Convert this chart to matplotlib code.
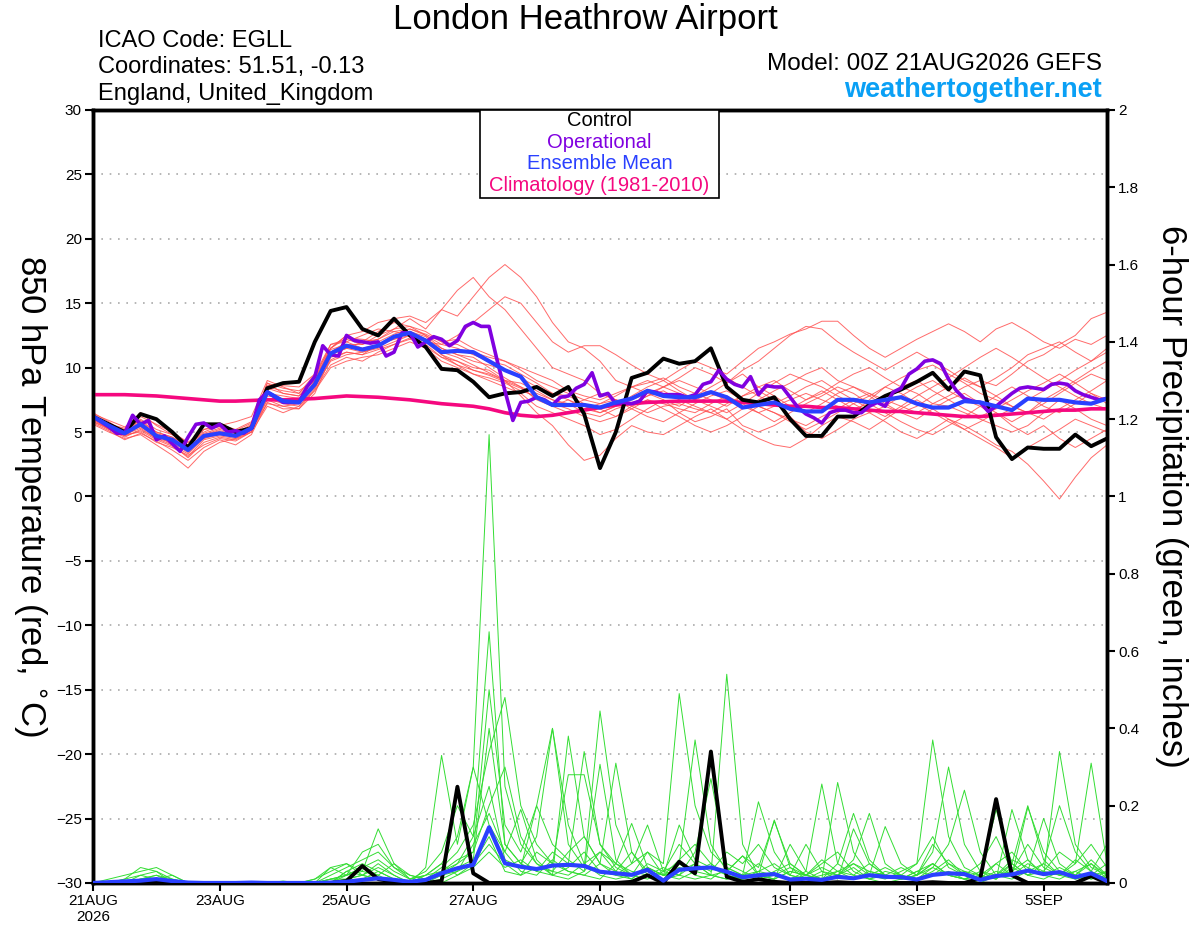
import matplotlib
matplotlib.use('Agg')
import matplotlib.pyplot as plt
from matplotlib.patches import Rectangle

plt.rcParams['font.family'] = ['Liberation Sans', 'DejaVu Sans']

# 6-hourly forecast hours (0..384) and 3-hourly for the operational run
hours6 = list(range(0, 385, 6))
hours3 = list(range(0, 385, 3))

tick_hours = [0, 48, 96, 144, 192, 264, 312, 360]
tick_labels = ['21AUG\n2026', '23AUG', '25AUG', '27AUG', '29AUG', '1SEP', '3SEP', '5SEP']

# 850 hPa temperature (C)
control_t = [6.2, 5.6, 5.0, 6.4, 6.0, 5.0, 3.8, 5.6, 5.6, 5.0, 5.3, 8.4, 8.8,
             8.9, 12.0, 14.4, 14.7, 13.0, 12.5, 13.8, 12.5, 11.6, 9.9, 9.8, 8.9, 7.7,
             8.0, 8.1, 8.5, 7.8, 8.5, 6.4, 2.2, 5.0, 9.2, 9.6, 10.7, 10.3, 10.5,
             11.5, 8.5, 7.5, 7.3, 7.7, 6.0, 4.7, 4.7, 6.2, 6.2, 7.1, 7.8, 8.3,
             8.9, 9.6, 8.3, 9.7, 9.4, 4.6, 2.9, 3.8, 3.7, 3.7, 4.8, 3.9, 4.5]

oper_t = [6.2, 5.8, 5.4, 4.9, 4.9, 6.3, 5.6, 5.9, 4.4, 4.7,
          4.1, 3.5, 4.6, 5.6, 5.7, 5.3, 5.6, 5.0, 5.1, 4.9,
          5.3, 7.5, 8.1, 7.7, 7.3, 7.3, 7.3, 8.5, 9.3, 11.7,
          11.0, 10.9, 12.5, 12.1, 12.0, 11.9, 12.0, 10.9, 11.2, 12.7,
          12.7, 11.6, 12.0, 12.4, 12.2, 11.7, 12.1, 13.2, 13.5, 13.2,
          13.2, 10.6, 8.2, 5.9, 7.3, 7.4, 7.7, 7.5, 7.1, 7.7,
          7.8, 8.4, 8.7, 9.6, 7.8, 8.0, 7.2, 7.3, 7.2, 7.4,
          8.2, 8.1, 7.9, 7.9, 7.9, 7.7, 7.9, 8.7, 8.9, 9.8,
          9.1, 8.7, 8.5, 9.3, 7.9, 8.6, 8.5, 8.5, 7.7, 6.9,
          6.4, 6.1, 5.7, 6.5, 6.7, 6.7, 6.5, 6.5, 7.0, 7.3,
          7.0, 8.1, 8.4, 9.5, 9.9, 10.5, 10.6, 10.3, 9.1, 8.2,
          7.6, 7.4, 7.3, 6.6, 7.0, 7.5, 8.0, 8.4, 8.5, 8.4,
          8.3, 8.7, 8.8, 8.7, 8.2, 7.9, 7.7, 7.5, 7.6]

mean_t = [6.2, 5.5, 4.9, 5.6, 4.7, 4.4, 3.6, 4.7, 4.9, 4.7, 5.3, 8.1, 7.4,
          7.3, 8.7, 11.1, 11.7, 11.4, 11.7, 12.4, 12.7, 12.1, 11.2, 11.3, 11.2, 10.5,
          9.8, 9.3, 7.7, 7.1, 7.1, 7.1, 6.9, 7.3, 7.6, 8.2, 7.8, 7.7, 7.7,
          8.1, 7.7, 6.9, 7.1, 7.3, 6.8, 6.6, 6.6, 7.5, 7.5, 7.3, 7.5, 7.7,
          7.2, 6.9, 6.9, 7.4, 7.3, 7.0, 6.7, 7.6, 7.5, 7.5, 7.3, 7.2, 7.6]

clim_t = [7.9, 7.9, 7.9, 7.85, 7.8, 7.7, 7.6, 7.5, 7.4, 7.4, 7.45, 7.5, 7.5,
          7.55, 7.6, 7.7, 7.8, 7.75, 7.7, 7.6, 7.5, 7.35, 7.2, 7.1, 7.0, 6.8,
          6.5, 6.3, 6.2, 6.3, 6.5, 6.7, 6.9, 7.1, 7.2, 7.3, 7.35, 7.4, 7.4,
          7.4, 7.4, 7.3, 7.2, 7.1, 7.0, 7.0, 6.9, 6.9, 6.8, 6.7, 6.6, 6.6,
          6.5, 6.4, 6.3, 6.2, 6.2, 6.3, 6.4, 6.5, 6.6, 6.7, 6.7, 6.8, 6.8]

# ensemble members (temperature)
m01 = [6.5, 5.8, 5.0, 6.0, 5.2, 4.8, 4.0, 5.0, 5.5, 5.8, 6.2, 9.0, 8.5,
       8.0, 9.5, 11.5, 12.5, 12.8, 13.5, 13.8, 14.0, 13.5, 14.5, 14.0, 15.5, 17.0,
       18.0, 17.0, 15.5, 13.5, 12.0, 11.5, 10.5, 9.0, 8.5, 8.8, 9.2, 8.5, 8.0,
       7.5, 7.0, 7.8, 8.5, 9.0, 8.2, 7.5, 8.0, 8.8, 9.5, 10.0, 9.2, 8.5,
       8.0, 7.2, 7.8, 8.5, 9.0, 8.6, 9.5, 10.5, 11.0, 11.8, 12.5, 13.8, 14.3]
m02 = [5.8, 5.2, 4.6, 5.2, 4.5, 4.0, 3.0, 4.2, 4.6, 4.4, 5.0, 7.5, 7.0,
       7.2, 9.0, 11.0, 11.5, 12.0, 12.2, 13.0, 13.8, 13.0, 14.5, 16.0, 17.0, 15.5,
       14.5, 13.0, 11.5, 10.0, 9.5, 9.0, 8.0, 7.5, 7.0, 6.5, 7.0, 7.2, 6.8,
       6.5, 6.0, 6.8, 7.5, 8.2, 8.8, 9.5, 10.0, 9.0, 8.5, 8.0, 7.2, 6.5,
       6.0, 6.8, 7.5, 8.0, 7.2, 6.5, 5.8, 6.5, 7.5, 8.2, 9.0, 9.8, 10.5]
m03 = [5.6, 5.0, 4.5, 4.8, 4.0, 3.2, 2.2, 3.5, 4.2, 4.5, 5.0, 7.0, 6.5,
       7.0, 8.2, 10.0, 10.5, 10.8, 11.0, 11.5, 12.0, 11.5, 10.5, 10.0, 9.5, 9.0,
       8.5, 8.0, 7.0, 6.5, 6.0, 5.5, 4.8, 5.2, 6.0, 6.8, 7.5, 6.5, 5.8,
       6.2, 6.8, 5.5, 5.0, 5.5, 6.2, 5.0, 4.5, 5.2, 6.0, 6.5, 5.8, 5.0,
       4.5, 5.2, 6.0, 5.5, 4.8, 4.0, 3.5, 2.5, 1.2, -0.2, 1.5, 3.0, 4.0]
m04 = [6.2, 5.6, 5.3, 6.5, 5.5, 4.8, 4.2, 4.5, 5.0, 4.8, 5.5, 8.8, 8.0,
       7.8, 9.0, 11.5, 12.5, 12.0, 12.8, 13.5, 13.2, 12.5, 11.5, 11.0, 10.8, 10.0,
       9.2, 8.5, 7.5, 7.0, 7.5, 6.8, 6.5, 7.0, 7.8, 8.5, 9.0, 8.2, 7.5,
       8.0, 8.8, 9.5, 8.5, 7.8, 7.0, 6.5, 7.2, 8.0, 8.5, 7.8, 7.0, 6.5,
       7.0, 7.8, 8.5, 9.2, 8.5, 7.8, 7.0, 6.5, 7.2, 8.0, 8.8, 9.5, 9.0]
m05 = [6.0, 5.2, 4.8, 5.0, 4.2, 3.8, 3.2, 4.0, 4.5, 4.3, 5.0, 7.8, 7.6,
       7.5, 8.5, 10.5, 11.0, 11.2, 11.5, 12.0, 12.5, 12.2, 11.0, 10.2, 9.8, 9.5,
       9.0, 8.8, 8.2, 7.5, 7.2, 6.5, 6.2, 6.8, 7.2, 7.8, 8.5, 9.2, 10.0,
       9.5, 8.8, 9.8, 10.5, 11.5, 12.5, 13.2, 13.0, 12.0, 11.2, 10.5, 9.8, 10.5,
       11.2, 10.5, 9.8, 9.0, 8.5, 9.2, 10.0, 11.0, 11.5, 12.0, 11.2, 10.5, 11.5]
m06 = [5.9, 5.3, 4.7, 5.5, 4.8, 4.0, 3.3, 4.5, 4.8, 4.6, 5.2, 7.2, 7.0,
       6.8, 8.0, 10.8, 11.2, 11.0, 11.8, 12.2, 12.5, 12.0, 11.0, 10.5, 10.0, 9.8,
       9.0, 7.8, 6.5, 5.5, 4.0, 2.8, 3.2, 4.5, 5.5, 5.0, 4.8, 5.5, 6.2,
       6.8, 6.0, 5.2, 4.5, 4.0, 3.8, 4.5, 5.5, 6.2, 5.8, 5.2, 6.0, 6.8,
       7.5, 6.8, 6.0, 5.2, 4.5, 3.8, 3.0, 3.8, 4.5, 5.2, 6.0, 5.5, 5.0]
m07 = [6.3, 5.7, 5.1, 5.8, 5.0, 4.6, 3.8, 5.2, 5.6, 5.2, 5.8, 8.5, 8.2,
       8.0, 9.2, 11.8, 12.2, 11.8, 12.5, 13.0, 13.2, 12.8, 12.0, 11.8, 11.2, 10.8,
       10.5, 10.0, 9.5, 9.0, 8.2, 7.8, 7.5, 8.0, 8.5, 8.0, 7.5, 7.0, 7.8,
       8.5, 9.2, 8.5, 7.8, 7.2, 7.8, 8.5, 9.0, 8.2, 7.5, 6.8, 6.2, 7.0,
       7.8, 8.5, 9.2, 10.0, 10.8, 11.5, 10.8, 10.0, 9.2, 8.5, 7.8, 7.2, 6.8]
m08 = [6.1, 5.4, 4.8, 5.3, 4.5, 4.2, 3.4, 4.8, 5.2, 4.9, 5.6, 8.0, 7.8,
       7.6, 8.8, 11.2, 12.0, 11.5, 11.8, 12.2, 12.8, 12.2, 11.5, 11.0, 10.5, 10.2,
       9.8, 9.2, 8.5, 8.0, 7.8, 7.2, 6.8, 6.2, 6.8, 7.5, 7.2, 6.8, 6.5,
       7.2, 7.8, 7.2, 6.5, 5.8, 6.5, 7.2, 7.8, 8.5, 8.0, 7.2, 6.5, 5.8,
       5.2, 4.8, 5.5, 6.2, 7.0, 7.8, 8.5, 7.8, 7.0, 6.5, 7.2, 8.0, 7.5]
m09 = [6.4, 5.9, 5.4, 6.2, 5.6, 5.0, 4.2, 5.2, 5.4, 5.0, 5.4, 8.6, 8.6,
       8.5, 9.5, 11.8, 12.0, 12.5, 13.0, 12.8, 12.5, 12.0, 11.8, 12.5, 13.5, 14.5,
       15.5, 15.0, 13.5, 12.0, 11.2, 11.7, 11.7, 11.0, 10.2, 9.5, 9.0, 9.8, 10.5,
       10.0, 9.5, 10.5, 11.5, 12.0, 12.6, 13.0, 13.6, 13.6, 12.5, 11.5, 10.8, 11.5,
       12.2, 12.8, 13.4, 12.8, 12.0, 13.0, 13.5, 12.8, 12.0, 11.5, 12.2, 11.8, 12.5]
m10 = [5.7, 5.1, 4.4, 4.9, 4.3, 3.6, 2.8, 3.8, 4.4, 4.0, 4.8, 7.3, 6.8,
       6.8, 8.3, 10.2, 10.8, 10.5, 11.2, 11.8, 12.2, 11.8, 10.8, 10.2, 9.5, 9.2,
       8.8, 8.2, 7.8, 7.2, 6.8, 6.2, 5.8, 6.2, 7.0, 7.5, 6.8, 6.2, 5.5,
       5.0, 5.5, 6.2, 7.0, 6.5, 5.8, 5.2, 5.8, 6.5, 7.2, 7.8, 8.5, 8.0,
       7.2, 6.5, 5.8, 5.2, 5.8, 6.5, 5.5, 4.8, 5.5, 4.5, 3.8, 4.5, 5.2]
m11 = [6.0, 5.5, 5.0, 5.4, 4.6, 4.3, 3.7, 4.6, 5.0, 4.7, 5.4, 8.2, 7.5,
       7.2, 8.6, 11.0, 11.5, 11.2, 11.6, 12.5, 12.8, 12.4, 11.2, 10.8, 10.2, 9.6,
       9.0, 8.5, 8.0, 7.5, 7.0, 7.5, 8.0, 7.5, 7.2, 7.8, 8.2, 7.5, 7.0,
       6.5, 7.2, 7.8, 8.2, 7.5, 6.8, 7.5, 8.2, 7.5, 6.8, 7.2, 7.8, 8.5,
       9.0, 8.2, 7.5, 6.8, 6.2, 6.8, 7.5, 8.2, 8.8, 9.5, 8.8, 8.0, 7.2]
m12 = [6.3, 5.6, 5.2, 5.9, 5.0, 4.6, 4.0, 4.9, 5.3, 5.1, 5.7, 8.8, 8.4,
       8.2, 9.0, 11.5, 12.3, 12.2, 12.0, 12.6, 13.0, 12.5, 11.8, 11.5, 11.0, 10.5,
       10.2, 9.5, 8.8, 8.0, 7.5, 7.0, 6.5, 7.0, 7.5, 8.0, 8.5, 9.0, 8.5,
       8.0, 7.5, 7.0, 6.5, 7.0, 7.5, 8.0, 7.5, 7.0, 6.5, 7.5, 8.5, 9.2,
       9.8, 10.2, 9.5, 8.8, 8.0, 7.5, 7.0, 6.5, 6.0, 6.8, 7.5, 8.2, 9.0]
m13 = [5.8, 5.3, 4.7, 5.1, 4.4, 3.9, 3.1, 4.4, 4.7, 4.5, 5.1, 7.6, 7.2,
       7.0, 8.4, 10.6, 11.2, 11.0, 11.4, 11.8, 12.3, 11.6, 10.8, 10.5, 9.8, 9.4,
       8.9, 8.4, 7.6, 7.0, 6.5, 6.8, 7.2, 7.5, 6.8, 6.2, 5.8, 6.5, 7.2,
       7.8, 8.2, 7.5, 7.0, 6.5, 6.0, 5.5, 6.2, 6.8, 7.5, 8.0, 7.5, 7.0,
       6.5, 7.2, 7.0, 6.5, 6.0, 5.5, 5.0, 5.5, 6.5, 7.5, 6.8, 6.0, 5.5]
m14 = [6.1, 5.5, 5.0, 5.7, 4.9, 4.5, 3.5, 4.8, 5.1, 4.8, 5.5, 8.4, 8.0,
       7.8, 9.2, 11.4, 11.8, 11.8, 12.2, 12.8, 13.0, 12.6, 12.0, 12.2, 11.5, 11.0,
       10.5, 9.8, 9.0, 8.5, 8.0, 7.5, 7.2, 7.8, 8.5, 9.0, 8.5, 8.0, 7.5,
       7.0, 6.5, 7.2, 8.0, 8.8, 9.5, 9.0, 8.5, 7.8, 7.2, 6.5, 7.0, 7.8,
       8.5, 9.0, 8.2, 7.5, 7.0, 6.2, 6.8, 7.5, 8.2, 9.0, 9.8, 10.5, 11.2]
members_t = [m01, m02, m03, m04, m05, m06, m07, m08, m09, m10, m11, m12, m13, m14]

# 6-hour precipitation (inches)
control_p = [0, 0, 0, 0, 0, 0, 0, 0, 0, 0, 0, 0, 0,
             0, 0, 0, 0.005, 0.044, 0.01, 0.003, 0, 0, 0.005, 0.249, 0.025, 0,
             0, 0, 0, 0, 0, 0, 0, 0, 0.003, 0.02, 0, 0.055, 0.025,
             0.34, 0.016, 0.003, 0.01, 0.003, 0, 0, 0, 0.002, 0, 0, 0, 0,
             0, 0.002, 0, 0, 0.012, 0.217, 0.02, 0, 0, 0, 0, 0.018, 0]

mean_p = [0, 0.002, 0.004, 0.006, 0.01, 0.005, 0.001, 0, 0, 0, 0.001, 0, 0,
          0, 0, 0.001, 0.003, 0.008, 0.012, 0.008, 0.003, 0.008, 0.025, 0.038, 0.047, 0.144,
          0.051, 0.042, 0.036, 0.045, 0.047, 0.044, 0.029, 0.025, 0.021, 0.034, 0.006, 0.034, 0.038,
          0.04, 0.029, 0.015, 0.02, 0.023, 0.009, 0.011, 0.008, 0.016, 0.012, 0.02, 0.016, 0.015,
          0.009, 0.021, 0.025, 0.023, 0.008, 0.018, 0.022, 0.032, 0.023, 0.028, 0.015, 0.025, 0.005]

g01 = [0, 0, 0, 0.01, 0.02, 0, 0, 0, 0, 0, 0, 0, 0,
       0, 0, 0.01, 0.02, 0.04, 0.06, 0.03, 0.01, 0.02, 0.05, 0.12, 0.30, 1.16,
       0.25, 0.10, 0.05, 0.03, 0.08, 0.12, 0.05, 0.02, 0.01, 0.04, 0.02, 0.06, 0.10,
       0.05, 0.02, 0.01, 0.03, 0.05, 0.02, 0.01, 0, 0.02, 0.04, 0.01, 0, 0.01,
       0.03, 0.05, 0.02, 0.01, 0, 0.02, 0.06, 0.04, 0.02, 0.01, 0.03, 0.05, 0.02]
g02 = [0, 0, 0.01, 0.04, 0.03, 0.01, 0, 0, 0, 0, 0, 0, 0,
       0, 0, 0.04, 0.02, 0.03, 0.14, 0.05, 0.01, 0.03, 0.08, 0.20, 0.12, 0.65,
       0.10, 0.05, 0.12, 0.40, 0.15, 0.05, 0.08, 0.03, 0.01, 0.05, 0.03, 0.02, 0.05,
       0.02, 0.54, 0.10, 0.02, 0.01, 0.03, 0.02, 0.05, 0.08, 0.03, 0.01, 0.02, 0.04,
       0.02, 0.08, 0.30, 0.10, 0.03, 0.01, 0.04, 0.02, 0.05, 0.20, 0.08, 0.03, 0.10]
g03 = [0, 0.01, 0.02, 0.03, 0.04, 0.02, 0, 0, 0, 0, 0, 0, 0,
       0, 0, 0.02, 0.04, 0.06, 0.08, 0.04, 0.02, 0.01, 0.04, 0.08, 0.15, 0.34,
       0.48, 0.20, 0.10, 0.05, 0.28, 0.28, 0.10, 0.04, 0.02, 0.08, 0.05, 0.49, 0.20,
       0.08, 0.04, 0.02, 0.21, 0.08, 0.02, 0.01, 0.03, 0.02, 0.06, 0.18, 0.05, 0.02,
       0.01, 0.04, 0.10, 0.24, 0.08, 0.02, 0.05, 0.20, 0.06, 0.02, 0.05, 0.31, 0.05]
g04 = [0, 0, 0, 0.02, 0.03, 0, 0, 0, 0, 0, 0, 0, 0,
       0, 0.01, 0.03, 0.05, 0.02, 0.04, 0.02, 0, 0.04, 0.33, 0.10, 0.30, 0.15,
       0.08, 0.19, 0.06, 0.02, 0.38, 0.12, 0.05, 0.31, 0.08, 0.02, 0.01, 0.05, 0.37,
       0.10, 0.03, 0.07, 0.04, 0.16, 0.05, 0.02, 0.01, 0.26, 0.08, 0.02, 0.01, 0.03,
       0.05, 0.37, 0.12, 0.04, 0.02, 0.01, 0.19, 0.06, 0.02, 0.34, 0.10, 0.04, 0.02]
g05 = [0, 0, 0, 0.01, 0.02, 0.01, 0, 0, 0, 0, 0, 0, 0,
       0, 0, 0.01, 0.02, 0.08, 0.10, 0.04, 0.01, 0.02, 0.03, 0.06, 0.08, 0.50,
       0.15, 0.08, 0.20, 0.40, 0.10, 0.04, 0.445, 0.15, 0.05, 0.15, 0.03, 0.10, 0.05,
       0.03, 0.08, 0.05, 0.10, 0.04, 0.02, 0.10, 0.03, 0.01, 0.14, 0.05, 0.02, 0.01,
       0.02, 0.10, 0.05, 0.02, 0.01, 0.05, 0.02, 0.196, 0.08, 0.03, 0.01, 0.02, 0.05]
g06 = [0, 0, 0.01, 0.02, 0.01, 0, 0, 0, 0, 0, 0, 0, 0,
       0, 0, 0, 0.03, 0.05, 0.03, 0.01, 0, 0.01, 0.02, 0.04, 0.06, 0.40,
       0.10, 0.05, 0.03, 0.08, 0.05, 0.34, 0.10, 0.05, 0.02, 0.03, 0.01, 0.02, 0.08,
       0.27, 0.05, 0.03, 0.01, 0.02, 0.04, 0.01, 0.02, 0.03, 0.05, 0.02, 0.146, 0.05,
       0.02, 0.05, 0.02, 0.01, 0.03, 0.02, 0.01, 0.03, 0.167, 0.05, 0.02, 0.01, 0.03]
g07 = [0, 0, 0, 0, 0.01, 0.02, 0, 0, 0, 0, 0, 0, 0,
       0, 0.01, 0.04, 0.05, 0.03, 0.02, 0.05, 0.02, 0.01, 0.03, 0.05, 0.12, 0.25,
       0.06, 0.04, 0.20, 0.10, 0.06, 0.03, 0.08, 0.05, 0.154, 0.04, 0.02, 0.03, 0.05,
       0.02, 0.03, 0.07, 0.02, 0.01, 0.10, 0.03, 0.01, 0.05, 0.18, 0.06, 0.02, 0.01,
       0.03, 0.02, 0.05, 0.03, 0.02, 0.19, 0.05, 0.02, 0.03, 0.08, 0.05, 0.10, 0.04]
g08 = [0, 0, 0, 0.01, 0.01, 0, 0, 0, 0, 0, 0, 0, 0,
       0, 0, 0.01, 0.01, 0.02, 0.05, 0.02, 0, 0, 0.02, 0.05, 0.08, 0.20,
       0.30, 0.12, 0.05, 0.02, 0.04, 0.08, 0.03, 0.02, 0.05, 0.08, 0.02, 0.15, 0.06,
       0.04, 0.02, 0.01, 0.02, 0.163, 0.04, 0.02, 0.06, 0.03, 0.01, 0.02, 0.04, 0.02,
       0.05, 0.12, 0.04, 0.02, 0.05, 0.12, 0.03, 0.06, 0.02, 0.04, 0.02, 0.06, 0.02]
g09 = [0, 0, 0, 0, 0, 0, 0, 0, 0, 0, 0, 0, 0,
       0, 0, 0, 0.02, 0.04, 0.02, 0, 0, 0, 0.01, 0.03, 0.10, 0.18,
       0.08, 0.03, 0.02, 0.06, 0.03, 0.02, 0.01, 0.05, 0.03, 0.02, 0.04, 0.02, 0.01,
       0.02, 0.01, 0.02, 0.05, 0.02, 0.01, 0.03, 0.256, 0.05, 0.02, 0.01, 0.03, 0.02,
       0.01, 0.03, 0.06, 0.02, 0.01, 0.03, 0.02, 0.05, 0.03, 0.02, 0.06, 0.03, 0.01]
g10 = [0, 0, 0, 0, 0.01, 0, 0, 0, 0, 0, 0, 0, 0.005,
       0, 0, 0, 0.01, 0.02, 0.01, 0, 0, 0.02, 0.05, 0.02, 0.04, 0.08,
       0.04, 0.06, 0.03, 0.02, 0.01, 0.03, 0.307, 0.06, 0.02, 0.01, 0.03, 0.05, 0.02,
       0.01, 0.04, 0.02, 0.01, 0.03, 0.05, 0.02, 0.01, 0.03, 0.02, 0.05, 0.02, 0.01,
       0.02, 0.05, 0.02, 0.01, 0.02, 0.05, 0.08, 0.03, 0.05, 0.02, 0.01, 0.02, 0.03]
g11 = [0, 0, 0, 0, 0, 0, 0, 0, 0, 0, 0, 0, 0,
       0, 0, 0, 0, 0.01, 0.03, 0.01, 0, 0, 0, 0.02, 0.05, 0.10,
       0.05, 0.02, 0.08, 0.05, 0.03, 0.02, 0.05, 0.03, 0.08, 0.03, 0.02, 0.04, 0.03,
       0.02, 0.01, 0.02, 0.03, 0.02, 0.01, 0.02, 0.04, 0.02, 0.05, 0.03, 0.02, 0.01,
       0.02, 0.04, 0.02, 0.03, 0.01, 0.02, 0.03, 0.10, 0.04, 0.02, 0.03, 0.01, 0.02]
g12 = [0, 0, 0, 0, 0, 0, 0, 0, 0, 0, 0, 0, 0,
       0, 0, 0, 0.03, 0.02, 0.01, 0, 0, 0.01, 0.02, 0.03, 0.05, 0.12,
       0.03, 0.02, 0.04, 0.03, 0.02, 0.05, 0.02, 0.01, 0.02, 0.04, 0.02, 0.01, 0.03,
       0.05, 0.02, 0.01, 0.02, 0.01, 0.03, 0.02, 0.01, 0.02, 0.01, 0.03, 0.02, 0.01,
       0.01, 0.02, 0.03, 0.01, 0.02, 0.01, 0.05, 0.02, 0.01, 0.03, 0.02, 0.05, 0.01]
members_p = [g01, g02, g03, g04, g05, g06, g07, g08, g09, g10, g11, g12]

# colores
c_oper = '#8000e0'
c_mean = '#2a40ff'
c_clim = '#f5087f'
c_red = '#ff5050'
c_green = '#33dd33'

fig = plt.figure(figsize=(12, 9.27), dpi=100)
ax = fig.add_axes([0.0775, 0.0475, 0.845, 0.8339])
ax2 = ax.twinx()

# grilla
for v in range(-25, 30, 5):
    ax.axhline(v, color='#aaaaaa', lw=1.2, ls=(0, (1, 4)), zorder=0)

# temperatura
for m in members_t:
    ax.plot(hours6, m, color=c_red, lw=0.7, alpha=0.85, zorder=1)
ax.plot(hours6, clim_t, color=c_clim, lw=2.6, zorder=3)
ax.plot(hours6, control_t, color='black', lw=2.8, zorder=4)
ax.plot(hours3, oper_t, color=c_oper, lw=2.6, zorder=5)
ax.plot(hours6, mean_t, color=c_mean, lw=3.0, zorder=6)

# precipitacion
for g in members_p:
    ax2.plot(hours6, g, color=c_green, lw=0.7, zorder=1)
ax2.plot(hours6, control_p, color='black', lw=2.8, zorder=4)
ax2.plot(hours6, mean_p, color=c_mean, lw=3.0, zorder=5)

ax.set_xlim(0, 384)
ax.set_ylim(-30, 30)
ax2.set_ylim(0, 2)
ax.set_yticks(range(-30, 31, 5))
ax2.set_yticks([i / 10 for i in range(0, 21, 2)])
ax2.set_yticklabels([f'{i / 10:g}' for i in range(0, 21, 2)])
ax.set_xticks(tick_hours)
ax.set_xticklabels(tick_labels, multialignment='center')

for a in (ax, ax2):
    for s in a.spines.values():
        s.set_linewidth(2.5)
    a.tick_params(direction='out', length=6, width=1.5, labelsize=11, pad=2)

ax.set_ylabel('850 hPa Temperature (red, $^{\\circ}$C)', fontsize=25, rotation=270,
              va='center')
ax.yaxis.set_label_coords(-0.062, 0.5)
ax2.set_ylabel('6-hour Precipitation (green, inches)', fontsize=25, rotation=270,
               va='center')
ax2.yaxis.set_label_coords(1.064, 0.5)

# leyenda
ax2.add_patch(Rectangle((0.382, 0.886), 0.2357, 0.114, transform=ax2.transAxes,
                        facecolor='white', edgecolor='black', lw=1.2, zorder=10))
leg = [('Control', 'black'), ('Operational', c_oper),
       ('Ensemble Mean', c_mean), ('Climatology (1981-2010)', c_clim)]
for k, (txt, col) in enumerate(leg):
    ax2.text(0.4995, 0.9858 - k * 0.0278, txt, color=col, fontsize=14.5,
             ha='center', va='center', transform=ax2.transAxes, zorder=11)

# textos
fig.text(0.4875, 0.979, 'London Heathrow Airport', fontsize=25, ha='center', va='center')
fig.text(0.0817, 0.956, 'ICAO Code: EGLL', fontsize=17, va='center')
fig.text(0.0817, 0.928, 'Coordinates: 51.51, -0.13', fontsize=17, va='center')
fig.text(0.0817, 0.899, 'England, United_Kingdom', fontsize=17, va='center')
fig.text(0.918, 0.931, 'Model: 00Z 21AUG2026 GEFS', fontsize=17.5, ha='right', va='center')
fig.text(0.918, 0.903, 'weathertogether.net', fontsize=19.5, ha='right', va='center',
         color='#0aa0f5', fontweight='bold')

fig.savefig('out.png', dpi=100)
